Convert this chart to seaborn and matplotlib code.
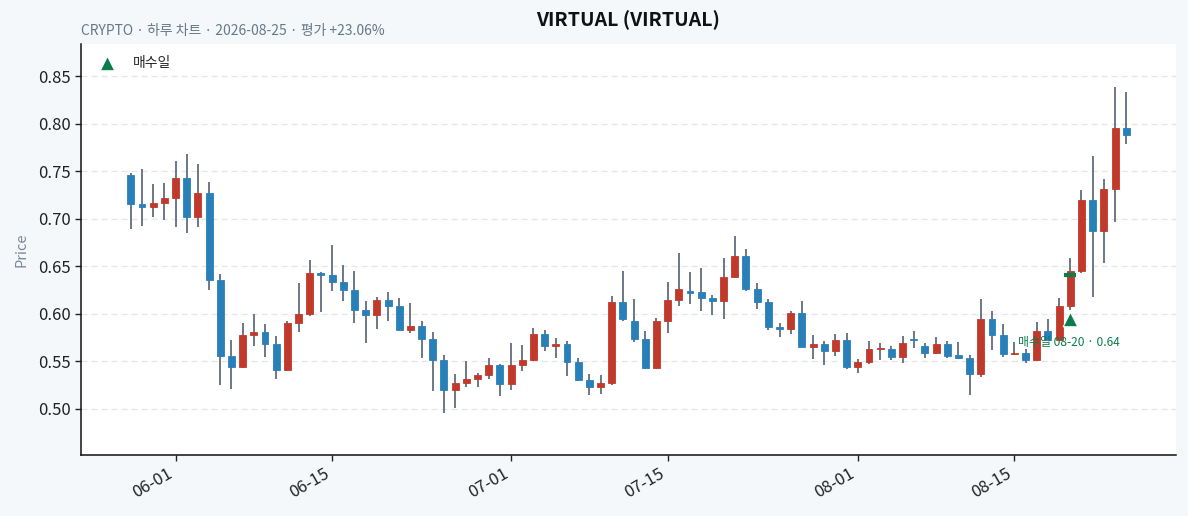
import numpy as np
import pandas as pd
import matplotlib
matplotlib.use("Agg")
import matplotlib.pyplot as plt
import matplotlib.dates as mdates
import seaborn as sns

# ---- data ----
start_date = "2026-05-28"
n_days = 90
opens = [0.746, 0.716, 0.712, 0.717, 0.722, 0.743, 0.702, 0.727, 0.636, 0.556,
         0.544, 0.578, 0.581, 0.568, 0.541, 0.590, 0.600, 0.643, 0.641, 0.633,
         0.625, 0.604, 0.599, 0.615, 0.608, 0.583, 0.587, 0.574, 0.552, 0.520,
         0.527, 0.531, 0.536, 0.546, 0.526, 0.546, 0.551, 0.579, 0.566, 0.568,
         0.549, 0.530, 0.523, 0.527, 0.612, 0.592, 0.574, 0.543, 0.593, 0.615,
         0.624, 0.623, 0.617, 0.613, 0.639, 0.661, 0.626, 0.612, 0.586, 0.584,
         0.601, 0.565, 0.568, 0.561, 0.572, 0.544, 0.549, 0.563, 0.563, 0.555,
         0.574, 0.566, 0.559, 0.568, 0.557, 0.554, 0.537, 0.595, 0.578, 0.558,
         0.559, 0.552, 0.582, 0.573, 0.608, 0.645, 0.720, 0.687, 0.731, 0.795]
highs = [0.748, 0.752, 0.737, 0.738, 0.761, 0.768, 0.758, 0.739, 0.642, 0.572,
         0.590, 0.600, 0.589, 0.577, 0.592, 0.632, 0.657, 0.644, 0.672, 0.651,
         0.645, 0.614, 0.618, 0.623, 0.617, 0.611, 0.592, 0.581, 0.557, 0.537,
         0.550, 0.538, 0.554, 0.547, 0.569, 0.567, 0.585, 0.583, 0.575, 0.571,
         0.554, 0.537, 0.536, 0.619, 0.645, 0.616, 0.582, 0.596, 0.634, 0.664,
         0.644, 0.648, 0.620, 0.659, 0.682, 0.668, 0.632, 0.616, 0.590, 0.603,
         0.613, 0.578, 0.571, 0.579, 0.580, 0.553, 0.571, 0.569, 0.566, 0.577,
         0.582, 0.569, 0.576, 0.571, 0.570, 0.557, 0.616, 0.603, 0.589, 0.570,
         0.563, 0.591, 0.595, 0.617, 0.659, 0.730, 0.766, 0.742, 0.838, 0.833]
lows = [0.689, 0.692, 0.702, 0.699, 0.691, 0.685, 0.691, 0.625, 0.525, 0.521,
        0.543, 0.566, 0.555, 0.532, 0.540, 0.581, 0.598, 0.602, 0.624, 0.614,
        0.590, 0.569, 0.584, 0.593, 0.583, 0.580, 0.554, 0.519, 0.496, 0.501,
        0.523, 0.523, 0.531, 0.514, 0.520, 0.540, 0.550, 0.561, 0.554, 0.535,
        0.529, 0.515, 0.516, 0.525, 0.592, 0.570, 0.542, 0.542, 0.580, 0.608,
        0.610, 0.603, 0.599, 0.595, 0.638, 0.624, 0.605, 0.583, 0.576, 0.579,
        0.565, 0.553, 0.546, 0.556, 0.542, 0.538, 0.547, 0.551, 0.551, 0.548,
        0.564, 0.554, 0.558, 0.554, 0.553, 0.515, 0.534, 0.562, 0.555, 0.557,
        0.548, 0.550, 0.572, 0.572, 0.604, 0.643, 0.618, 0.653, 0.697, 0.779]
closes = [0.715, 0.712, 0.717, 0.722, 0.743, 0.702, 0.727, 0.636, 0.556, 0.544,
          0.578, 0.581, 0.568, 0.541, 0.590, 0.600, 0.643, 0.641, 0.633, 0.625,
          0.604, 0.599, 0.615, 0.608, 0.583, 0.587, 0.574, 0.552, 0.520, 0.527,
          0.531, 0.536, 0.546, 0.526, 0.546, 0.551, 0.579, 0.566, 0.568, 0.549,
          0.530, 0.523, 0.527, 0.612, 0.595, 0.574, 0.543, 0.593, 0.615, 0.626,
          0.622, 0.617, 0.613, 0.639, 0.661, 0.626, 0.612, 0.586, 0.584, 0.601,
          0.565, 0.568, 0.561, 0.572, 0.544, 0.549, 0.563, 0.5637, 0.555, 0.569,
          0.572, 0.559, 0.568, 0.556, 0.554, 0.537, 0.595, 0.578, 0.558, 0.559,
          0.552, 0.582, 0.573, 0.608, 0.645, 0.720, 0.687, 0.731, 0.795, 0.7876]

buy_date = "2026-08-20"
buy_price = 0.641
buy_label = "매수일 08-20 · 0.64"
title = "VIRTUAL (VIRTUAL)"
subtitle = "CRYPTO · 하루 차트 · 2026-08-25 · 평가 +23.06%"
y_ticks = [0.50, 0.55, 0.60, 0.65, 0.70, 0.75, 0.80, 0.85]

# ---- style ----
sns.set_theme(style="white")
plt.rcParams['font.family'] = ['Noto Sans CJK KR', 'DejaVu Sans']
plt.rcParams['axes.unicode_minus'] = False

UP = "#c0392b"
DOWN = "#2980b9"
WICK = "#6b7888"
GREEN = "#0b7d4c"
BG = "#f5f8fb"

df = pd.DataFrame({
    "date": pd.date_range(start_date, periods=n_days, freq="D"),
    "open": opens, "high": highs, "low": lows, "close": closes,
})
df["up"] = df["close"] >= df["open"]
df["body_lo"] = df[["open", "close"]].min(axis=1)
df["body_h"] = (df["close"] - df["open"]).abs().clip(lower=0.0009)

fig = plt.figure(figsize=(11.88, 5.16), dpi=100, facecolor=BG)
ax = fig.add_axes([0.0682, 0.1182, 0.9217, 0.7965])
ax.set_facecolor("white")

# wicks
ax.vlines(df["date"], df["low"], df["high"], color=WICK, linewidth=1.4, zorder=2)
# bodies
colors = np.where(df["up"], UP, DOWN)
ax.bar(df["date"], df["body_h"], bottom=df["body_lo"], width=0.62,
       color=colors, edgecolor=colors, linewidth=0.6, zorder=3)

# buy marker
bd = pd.Timestamp(buy_date)
brow = df[df["date"] == bd].iloc[0]
mk = pd.DataFrame({"date": [bd], "y": [brow["low"] * 0.985]})
sns.scatterplot(data=mk, x="date", y="y", marker="^", s=110, color=GREEN,
                edgecolor="white", linewidth=0.8, zorder=5, ax=ax, label="매수일")
ax.hlines(buy_price, bd - pd.Timedelta(hours=13), bd + pd.Timedelta(hours=13),
          color=GREEN, linewidth=3, zorder=4)
ax.annotate(buy_label, xy=(bd, brow["low"] * 0.985), xytext=(-1, -17),
            textcoords="offset points", ha="center", va="center",
            fontsize=8.6, color=GREEN, zorder=6)

# axes
pad = pd.Timedelta(days=4.45)
ax.set_xlim(df["date"].iloc[0] - pad, df["date"].iloc[-1] + pad)
ax.set_ylim(0.4516, 0.8837)
ax.set_yticks(y_ticks)
ax.yaxis.set_major_formatter(matplotlib.ticker.FormatStrFormatter("%.2f"))
ax.xaxis.set_major_locator(mdates.DayLocator(bymonthday=[1, 15]))
ax.xaxis.set_major_formatter(mdates.DateFormatter("%m-%d"))
for lab in ax.get_xticklabels():
    lab.set_rotation(30)
    lab.set_ha("right")
ax.tick_params(axis="both", labelsize=12, length=4, width=1, color="#222222",
               labelcolor="#222222", bottom=True, left=True)
ax.grid(axis="y", linestyle=(0, (5, 3)), color="#e6e6e6", linewidth=0.9)
ax.grid(axis="x", visible=False)
for s in ["top", "right"]:
    ax.spines[s].set_visible(False)
for s in ["left", "bottom"]:
    ax.spines[s].set_color("#111111")
    ax.spines[s].set_linewidth(1.1)
ax.set_xlabel("")
ax.set_ylabel("Price", color="#7a8899", fontsize=10.5, labelpad=7)

leg = ax.legend(loc="upper left", frameon=False, fontsize=10, handletextpad=0.9,
                borderaxespad=0.45)

ax.set_title(title, fontsize=14, fontweight="bold", color="#111111", pad=13)
fig.text(0.0682, 0.940, subtitle, ha="left", va="center", fontsize=10,
         color="#66788a")

fig.savefig("out.png", dpi=100, facecolor=BG)
